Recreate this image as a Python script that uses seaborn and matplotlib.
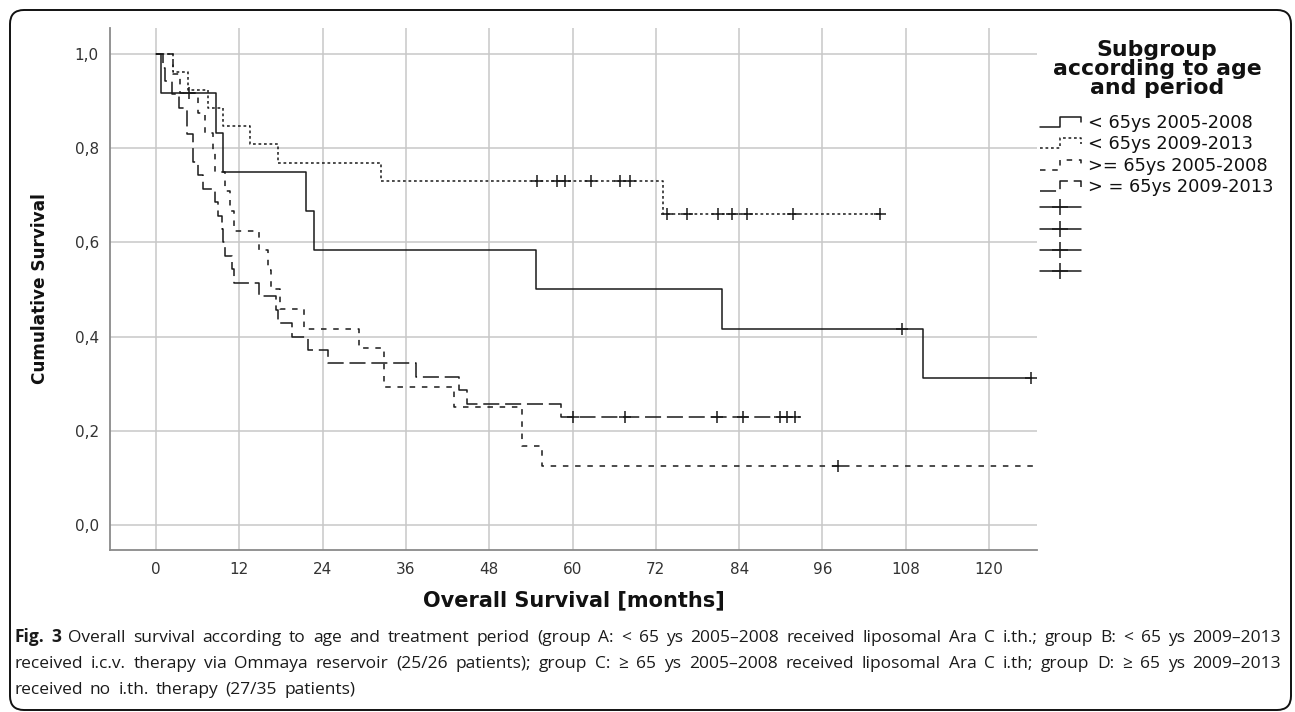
import pandas as pd
import matplotlib.pyplot as plt
import seaborn as sns
from matplotlib.lines import Line2D
from matplotlib.legend_handler import HandlerBase
from matplotlib.patches import FancyBboxPatch
from matplotlib.transforms import IdentityTransform

# Kaplan-Meier steps (time in months, cumulative survival)
# group A: < 65ys 2005-2008
a_time = [0, 0.7, 8.7, 9.7, 21.6, 22.8, 54.7, 81.5, 110.5, 126.1]
a_surv = [1.0, 0.917, 0.833, 0.750, 0.667, 0.583, 0.500, 0.417, 0.3125, 0.3125]
a_cens = [4.7, 107.4, 126.1]

# group B: < 65ys 2009-2013
b_time = [0, 2.5, 4.6, 7.5, 9.7, 13.5, 17.6, 32.4, 73.1, 104.3]
b_surv = [1.0, 0.962, 0.923, 0.885, 0.846, 0.808, 0.769, 0.731, 0.660, 0.660]
b_cens = [54.9, 57.7, 58.9, 62.6, 66.9, 68.3,
          73.6, 76.5, 81.0, 82.9, 85.2, 91.7, 104.3]

# group C: >= 65ys 2005-2008
c_time = [0, 2.5, 3.5, 6.0, 7.0, 8.2, 8.5, 10.0, 10.7, 11.2, 14.8, 16.1,
          16.5, 17.8, 21.3, 29.2, 32.8, 42.9, 52.7, 55.6, 127.0]
c_surv = [1.0, 0.958, 0.917, 0.875, 0.833, 0.792, 0.750, 0.708, 0.667, 0.625,
          0.583, 0.542, 0.500, 0.458, 0.417, 0.375, 0.292, 0.250, 0.167,
          0.125, 0.125]
c_cens = [98.3]

# group D: >= 65ys 2009-2013
d_time = [0, 1.0, 1.3, 2.3, 3.3, 4.4, 4.5, 5.3, 5.4, 6.1, 6.8, 8.5, 8.9, 9.5,
          9.7, 9.9, 11.0, 11.2, 14.8, 17.3, 17.6, 19.6, 21.9, 24.8, 37.4,
          43.6, 44.8, 58.4, 92.8]
d_surv = [1.0, 0.971, 0.943, 0.914, 0.886, 0.857, 0.829, 0.800, 0.771, 0.743,
          0.714, 0.686, 0.657, 0.629, 0.600, 0.571, 0.543, 0.514, 0.486,
          0.457, 0.429, 0.400, 0.371, 0.343, 0.314, 0.286, 0.257, 0.229,
          0.229]
d_cens = [60.0, 67.6, 80.8, 84.5, 89.9, 90.9, 92.1]

group_labels = ["< 65ys 2005-2008", "< 65ys 2009-2013",
                ">= 65ys 2005-2008", "> = 65ys 2009-2013"]
legend_title = "Subgroup\naccording to age\nand period"
x_ticks = [0, 12, 24, 36, 48, 60, 72, 84, 96, 108, 120]
y_ticks = [0.0, 0.2, 0.4, 0.6, 0.8, 1.0]
y_tick_labels = ["0,0", "0,2", "0,4", "0,6", "0,8", "1,0"]

caption_1 = ("Overall survival according to age and treatment period (group A: < 65 ys "
             "2005\u20132008 received liposomal Ara C i.th.; group B: < 65 ys 2009\u20132013")
caption_2 = ("received i.c.v. therapy via Ommaya reservoir (25/26 patients); group C: \u2265 65 ys "
             "2005\u20132008 received liposomal Ara C i.th; group D: \u2265 65 ys 2009\u20132013")
caption_3 = "received no i.th. therapy (27/35 patients)"

sns.set_theme(style="whitegrid")
plt.rcParams["font.family"] = ["DejaVu Sans"]

INK = "#1a1a1a"
LW = 1.1
styles = ["-", (0, (1.8, 1.8)), (0, (3.6, 4.4)), (0, (10.5, 3.8))]

fig = plt.figure(figsize=(12.95, 7.12), dpi=100)
fig.patch.set_facecolor("white")
ax = fig.add_axes([110 / 1295, 1 - 550 / 712, (1037 - 110) / 1295, (550 - 28) / 712])
ax.set_facecolor("white")


def surv_at(times, survs, t):
    val = survs[0]
    for ti, si in zip(times, survs):
        if ti <= t:
            val = si
    return val


groups = [(a_time, a_surv, a_cens), (b_time, b_surv, b_cens),
          (c_time, c_surv, c_cens), (d_time, d_surv, d_cens)]

for (times, survs, cens), ls, lab in zip(groups, styles, group_labels):
    df = pd.DataFrame({"time": times, "surv": survs})
    sns.lineplot(data=df, x="time", y="surv", ax=ax, color=INK, lw=LW,
                 linestyle=ls, drawstyle="steps-post", estimator=None,
                 sort=False, legend=False)
    cy = [surv_at(times, survs, t) for t in cens]
    ax.plot(cens, cy, linestyle="none", marker="+", color=INK,
            markersize=8, markeredgewidth=1.1)

ax.set_xlim(-6.62, 126.9)
ax.set_ylim(-0.053, 1.055)
ax.set_xticks(x_ticks)
ax.set_xticklabels([str(v) for v in x_ticks])
ax.set_yticks(y_ticks)
ax.set_yticklabels(y_tick_labels)
ax.grid(True, color="#c8c8c8", lw=1.1)
ax.tick_params(axis="both", length=0, labelsize=11, colors="#333333")
ax.tick_params(axis="x", pad=9)
ax.tick_params(axis="y", pad=8)
for side in ["top", "right"]:
    ax.spines[side].set_visible(False)
for side in ["left", "bottom"]:
    ax.spines[side].set_color("#8a8a8a")
    ax.spines[side].set_linewidth(1.3)

ax.set_xlabel("Overall Survival [months]", fontsize=15, fontweight="bold",
              color="#111111")
ax.xaxis.set_label_coords(0.5, (550 - 600) / 522)
ax.xaxis.label.set_va("center")
ax.set_ylabel("Cumulative Survival", fontsize=12.2, fontweight="bold",
              color="#111111")
ax.yaxis.set_label_coords((40 - 110) / 927, 0.5)
ax.yaxis.label.set_va("center")


class StepHandler(HandlerBase):
    def create_artists(self, legend, orig_handle, xdescent, ydescent,
                       width, height, fontsize, trans):
        x0, y0 = -xdescent, -ydescent
        xm = x0 + 0.48 * width
        xs = [x0, xm, xm, x0 + width, x0 + width]
        ys = [y0 + 0.1 * height, y0 + 0.1 * height, y0 + 0.9 * height,
              y0 + 0.9 * height, y0 + 0.45 * height]
        line = Line2D(xs, ys)
        line.update_from(orig_handle)
        line.set_transform(trans)
        return [line]


# legend title, centred over the entries
fig.text(1157 / 1295, 1 - 40 / 712, legend_title, ha="center", va="top",
         multialignment="center", fontsize=15.8, fontweight="bold",
         linespacing=0.95, color="#111111")

step_handles = [Line2D([], [], color=INK, lw=LW, linestyle=ls) for ls in styles]
cross_handles = [Line2D([], [], color=INK, lw=LW, marker="+", markersize=12,
                        markeredgewidth=1.1) for _ in range(4)]
handler_map = {h: StepHandler() for h in step_handles}
leg = fig.legend(step_handles + cross_handles, group_labels + [""] * 4,
                 handler_map=handler_map, loc="upper left",
                 bbox_to_anchor=(1040 / 1295, 1 - 114 / 712),
                 frameon=False, fontsize=12.8, borderpad=0, borderaxespad=0,
                 handlelength=2.3, handletextpad=0.4, labelspacing=0.19)
for t in leg.get_texts():
    t.set_color("#111111")

# figure frame
frame = FancyBboxPatch((10, 2), 1281, 700, boxstyle="round,pad=0,rounding_size=14",
                       transform=IdentityTransform(), fill=False, ec="#111111", lw=1.4)
fig.add_artist(frame)

# caption
cap_font = ["Open Sans", "DejaVu Sans"]
cap_fs = 12.5
renderer = fig.canvas.get_renderer()


def caption_line(words, y_px, justify=True, left=14, right=1281):
    texts = []
    for w, bold in words:
        t = fig.text(left / 1295, 1 - y_px / 712, w, fontsize=cap_fs, family=cap_font,
                     weight="bold" if bold else "normal", va="baseline", color="#1a1a1a")
        texts.append(t)
    widths = [t.get_window_extent(renderer).width for t in texts]
    if justify and len(texts) > 1:
        gap = (right - left - sum(widths)) / (len(texts) - 1)
    else:
        sp = fig.text(0, 0, "a a", fontsize=cap_fs, family=cap_font)
        sp2 = fig.text(0, 0, "aa", fontsize=cap_fs, family=cap_font)
        gap = 1.6 * (sp.get_window_extent(renderer).width - sp2.get_window_extent(renderer).width)
        sp.remove()
        sp2.remove()
    x = left
    for t, w in zip(texts, widths):
        t.set_x(x / 1295)
        x += w + gap


caption_line([("Fig.", True), ("3", True)] + [(w, False) for w in caption_1.split()], 642)
caption_line([(w, False) for w in caption_2.split()], 668)
caption_line([(w, False) for w in caption_3.split()], 694, justify=False)

fig.savefig("out.png", dpi=100, facecolor="white")
